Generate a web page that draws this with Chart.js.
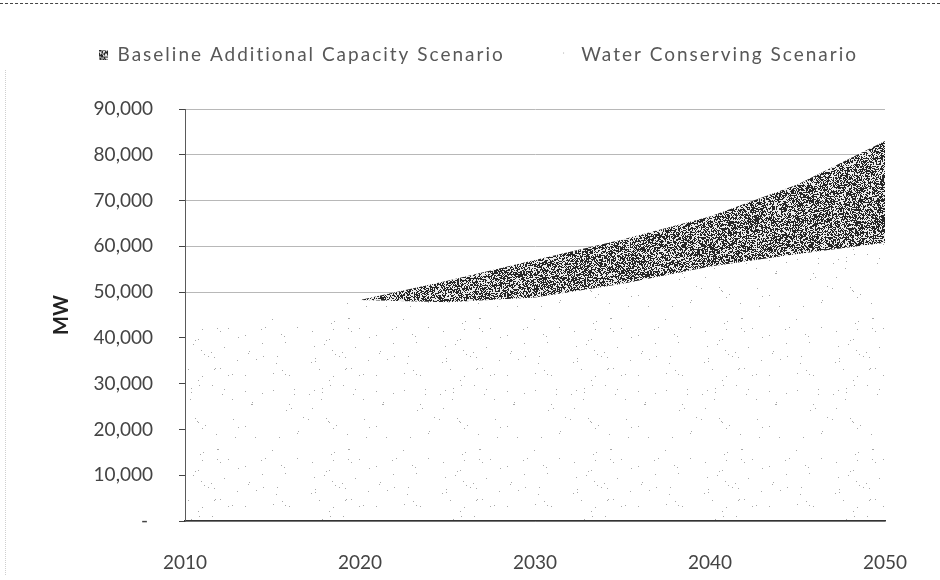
<!DOCTYPE html>
<html>
<head>
<meta charset="utf-8">
<script src="https://cdn.jsdelivr.net/npm/chart.js@4.4.1/dist/chart.umd.min.js"></script>
<style>
  html, body { margin: 0; padding: 0; background: #fff; }
  #wrap { position: relative; width: 940px; height: 580px; overflow: hidden; }
  #wrap canvas { position: absolute; left: 0; top: 0; }
  .edgeTop { position: absolute; left: 0; top: 3px; width: 940px; border-top: 1px dashed #444; }
  .edgeLeft { position: absolute; left: 5px; top: 70px; height: 505px; border-left: 1px dotted #cfcfcf; }
</style>
</head>
<body>
<div id="wrap">
  <canvas id="chart" width="940" height="580"></canvas>
  <div class="edgeTop"></div>
  <div class="edgeLeft"></div>
</div>
<script>
// Installed capacity (MW) by year
const years = [2010, 2015, 2020, 2025, 2030, 2035, 2040, 2045, 2050];
const waterConserving = [41500, 45000, 48300, 47800, 48800, 51800, 55600, 58300, 60800];
const baselineAdditional = [41500, 45000, 48300, 52500, 57000, 61500, 66500, 73500, 83000];
const seriesNames = ['Baseline Additional Capacity Scenario', 'Water Conserving Scenario'];
const xTickYears = [2010, 2020, 2030, 2040, 2050];
const yTickValues = [0, 10000, 20000, 30000, 40000, 50000, 60000, 70000, 80000, 90000];

const canvas = document.getElementById('chart');
const ctx = canvas.getContext('2d');

// Deterministic stipple texture (coordinate hash), like a printed halftone fill
function stipple(size, density, ink, paper) {
  const tile = document.createElement('canvas');
  tile.width = tile.height = size;
  const g = tile.getContext('2d');
  g.fillStyle = paper;
  g.fillRect(0, 0, size, size);
  g.fillStyle = ink;
  for (let y = 0; y < size; y++) {
    for (let x = 0; x < size; x++) {
      let h = (Math.imul(x, 374761393) + Math.imul(y, 668265263)) | 0;
      h = Math.imul(h ^ (h >>> 13), 1274126177);
      h ^= h >>> 16;
      if (((h >>> 0) % 1000) / 1000 < density) g.fillRect(x, y, 1, 1);
    }
  }
  return ctx.createPattern(tile, 'repeat');
}

const darkFill = stipple(127, 0.55, '#262626', '#ececec');
const lightFill = stipple(131, 0.006, '#a8a8a8', '#ffffff');

const toPoints = arr => years.map((yr, i) => ({ x: yr, y: arr[i] }));

const FONT = 'Lato, "Open Sans", "DejaVu Sans", sans-serif';
const PLOT_LEFT = 185;
const LEGEND_H = 109;
const X_AXIS_H = 59;
const LEGEND_SHIFT = { x: 36, y: -12.5 };
const LEGEND_TRACKING = '2px';

// Legend band: fixed height, letter-spaced text, nudged into place
const legendBand = {
  id: 'legendBand',
  beforeInit(chart) {
    const lg = chart.legend;
    if (!lg) return;
    const fit = lg.fit;
    const draw = lg.draw;
    lg.fit = function () {
      const c = this.ctx;
      c.save();
      c.letterSpacing = LEGEND_TRACKING;
      fit.call(this);
      c.restore();
      this.height = LEGEND_H;
    };
    lg.draw = function () {
      const c = this.ctx;
      c.save();
      c.letterSpacing = LEGEND_TRACKING;
      c.translate(LEGEND_SHIFT.x, LEGEND_SHIFT.y);
      draw.call(this);
      c.restore();
    };
  }
};

new Chart(ctx, {
  type: 'line',
  data: {
    datasets: [
      {
        label: seriesNames[0],
        data: toPoints(baselineAdditional),
        backgroundColor: darkFill,
        borderColor: 'rgba(0,0,0,0)',
        borderWidth: 0,
        pointRadius: 0,
        tension: 0,
        fill: 1
      },
      {
        label: seriesNames[1],
        data: toPoints(waterConserving),
        backgroundColor: lightFill,
        borderColor: 'rgba(0,0,0,0)',
        borderWidth: 0,
        pointRadius: 0,
        tension: 0,
        fill: 'origin'
      }
    ]
  },
  options: {
    responsive: false,
    devicePixelRatio: 1,
    animation: false,
    events: [],
    layout: { padding: { left: 0, right: 55, top: 0, bottom: 0 } },
    plugins: {
      tooltip: { enabled: false },
      legend: {
        position: 'top',
        align: 'center',
        labels: {
          font: { family: FONT, size: 19 },
          color: '#585858',
          boxWidth: 9,
          boxHeight: 10,
          padding: 58
        }
      }
    },
    scales: {
      x: {
        type: 'linear',
        min: xTickYears[0],
        max: xTickYears[xTickYears.length - 1],
        afterBuildTicks: s => { s.ticks = xTickYears.map(v => ({ value: v })); },
        ticks: {
          font: { family: FONT, size: 19 },
          color: '#444',
          padding: 30,
          maxRotation: 0,
          callback: v => String(v)
        },
        grid: { display: false, drawTicks: false },
        border: { display: true, color: '#333', width: 1.5, z: 1 },
        afterFit: s => { s.height = X_AXIS_H; }
      },
      y: {
        min: 0,
        max: 90000,
        afterBuildTicks: s => { s.ticks = yTickValues.map(v => ({ value: v })); },
        ticks: {
          font: { family: FONT, size: 19 },
          color: '#444',
          padding: 26,
          callback: v => (v === 0 ? '- ' : v.toLocaleString('en-US'))
        },
        grid: {
          color: '#b8b8b8',
          lineWidth: 1,
          borderDash: [2, 4],
          drawTicks: true,
          tickLength: 6,
          tickColor: '#444',
          tickBorderDash: []
        },
        border: { display: true, color: '#5a5a5a', width: 1, z: 1 },
        title: {
          display: true,
          text: 'MW',
          font: { family: FONT, size: 20, weight: 'bold' },
          color: '#222',
          padding: { top: 50, bottom: 0 }
        },
        afterFit: s => { s.width = PLOT_LEFT; }
      }
    }
  },
  plugins: [legendBand]
});
</script>
</body>
</html>
